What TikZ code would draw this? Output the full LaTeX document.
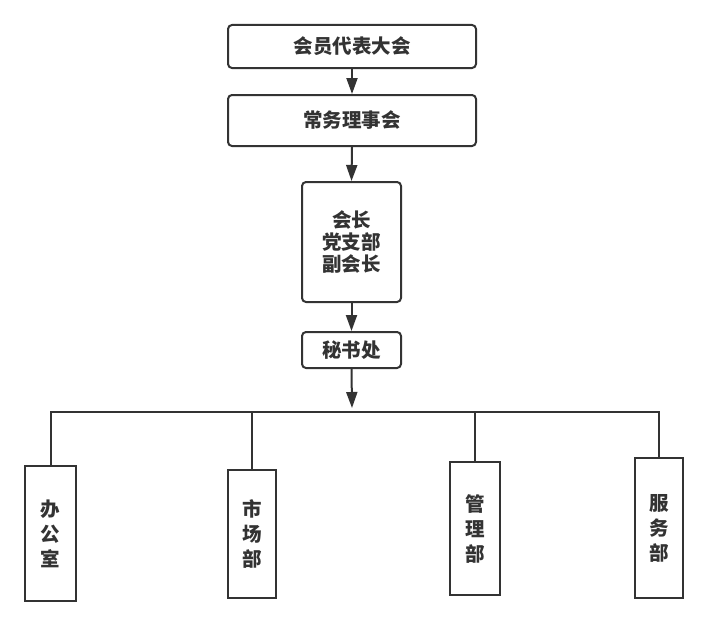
\documentclass[tikz,border=0pt]{standalone}
\usepackage{fontspec}
\newfontfamily\cjk{Noto Sans CJK SC}
\usetikzlibrary{arrows.meta}
\definecolor{ink}{HTML}{333333}
\begin{document}
\begin{tikzpicture}[x=1pt,y=-1pt,
  box/.style={draw=ink,line width=2pt,rounded corners=4pt,inner sep=0pt,align=center,
    text=ink,font=\cjk\bfseries\fontsize{19.5}{22}\selectfont},
  dept/.style={box,rounded corners=0pt,font=\cjk\bfseries\fontsize{19.5}{25}\selectfont},
  arr/.style={draw=ink,line width=2pt,-{Triangle[length=16pt,width=11pt]}},
  ln/.style={draw=ink,line width=2pt}]
\useasboundingbox (0,0) rectangle (708,626);
\node[box,minimum width=248pt,minimum height=43pt] (a) at (352,46.5) {会员代表大会};
\node[box,minimum width=248pt,minimum height=51pt] (b) at (352,120.5) {常务理事会};
\node[box,minimum width=99pt,minimum height=120pt] (c) at (351.5,242) {会长\\党支部\\副会长};
\node[box,minimum width=99pt,minimum height=36pt] (d) at (351.5,350) {秘书处};
\node[dept,minimum width=51pt,minimum height=135pt] (o) at (50.5,533.5) {办\\公\\室};
\node[dept,minimum width=48pt,minimum height=128pt] (m) at (252,534) {市\\场\\部};
\node[dept,minimum width=50pt,minimum height=133pt] (g) at (475,528.5) {管\\理\\部};
\node[dept,minimum width=48pt,minimum height=140pt] (s) at (659,528) {服\\务\\部};
\coordinate (tip) at (352,408);
\coordinate (bus) at (0,411.5);
\draw[arr] (a.south) -- (b.north);
\draw[arr] (b.south) -- (c.north);
\draw[arr] (c.south) -- (d.north);
\draw[arr] (d.south) -- (tip);
\draw[ln] (o.north) |- (s.north |- bus) -- (s.north);
\draw[ln] (m.north) -- (m.north |- bus);
\draw[ln] (g.north) -- (g.north |- bus);
\end{tikzpicture}
\end{document}
